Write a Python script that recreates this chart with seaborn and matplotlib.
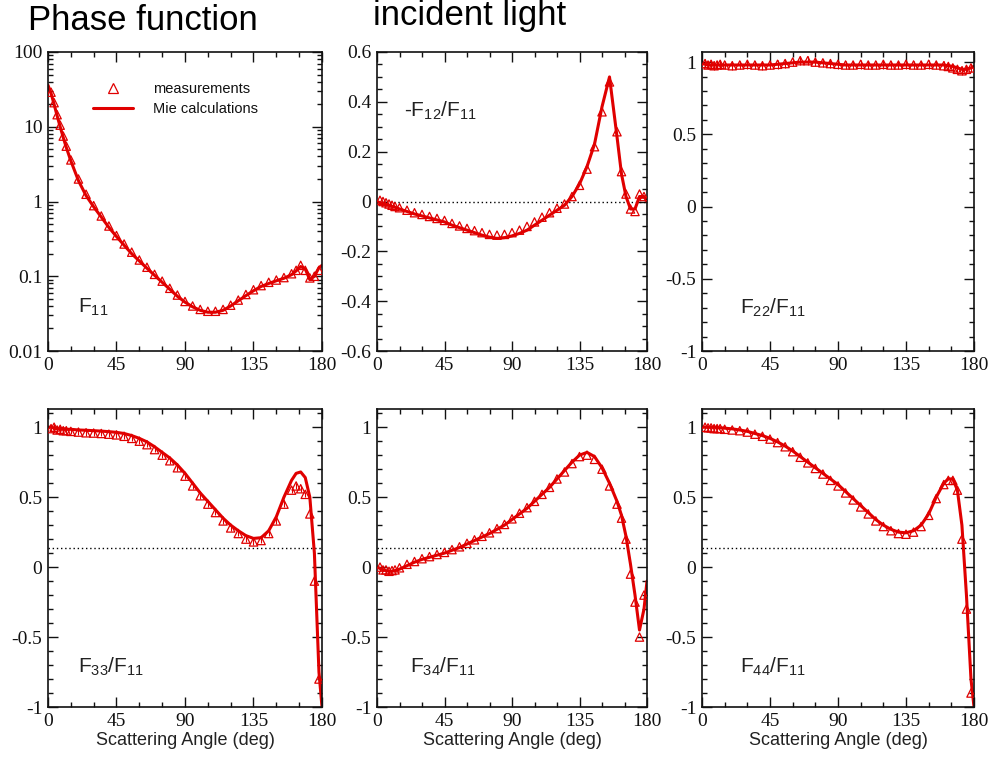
import matplotlib
matplotlib.use("Agg")
import matplotlib.pyplot as plt
from matplotlib.ticker import MultipleLocator, FixedLocator, LogLocator, NullFormatter
from matplotlib.lines import Line2D
import seaborn as sns

# ---------------- data ----------------
mie_ang = [0, 2, 4, 6, 8, 10, 12, 15, 20, 25, 30, 35, 40, 45, 50, 55, 60, 65, 70, 75,
           80, 85, 90, 95, 100, 105, 110, 115, 120, 125, 130, 135, 140, 145, 150, 155,
           160, 163, 166, 169, 172, 175, 178, 180]
meas_ang = [2, 4, 6, 8, 10, 12, 15, 20, 25, 30, 35, 40, 45, 50, 55, 60, 65, 70, 75,
            80, 85, 90, 95, 100, 105, 110, 115, 120, 125, 130, 135, 140, 145, 150, 155,
            160, 163, 166, 169, 172, 175, 178]

f11_mie = [36, 28, 20, 14, 10, 7.2, 5.3, 3.5, 1.9, 1.2, 0.85, 0.62, 0.45, 0.34, 0.26, 0.2,
           0.16, 0.128, 0.103, 0.083, 0.067, 0.054, 0.045, 0.039, 0.035, 0.033, 0.033,
           0.035, 0.04, 0.047, 0.055, 0.064, 0.073, 0.08, 0.087, 0.094, 0.105, 0.118,
           0.135, 0.125, 0.09, 0.1, 0.13, 0.14]
f11_meas = [29, 21, 14.5, 10.5, 7.5, 5.5, 3.6, 2.0, 1.25, 0.88, 0.64, 0.47, 0.35, 0.27,
            0.21, 0.165, 0.132, 0.106, 0.086, 0.069, 0.056, 0.046, 0.04, 0.036, 0.034,
            0.034, 0.036, 0.041, 0.048, 0.057, 0.066, 0.075, 0.083, 0.089, 0.096, 0.108,
            0.12, 0.14, 0.12, 0.095, 0.1, 0.12]

f12_mie = [0.0, -0.005, -0.008, -0.012, -0.015, -0.02, -0.023, -0.03, -0.04, -0.05, -0.058,
           -0.066, -0.074, -0.082, -0.095, -0.105, -0.115, -0.125, -0.135, -0.143, -0.148,
           -0.145, -0.138, -0.128, -0.115, -0.095, -0.075, -0.055, -0.035, -0.015, 0.02,
           0.07, 0.14, 0.23, 0.38, 0.5, 0.26, 0.11, 0.02, -0.03, -0.03, 0.02, 0.02, 0.0]
f12_meas = [0.005, 0.0, -0.005, -0.01, -0.015, -0.02, -0.025, -0.035, -0.045, -0.052, -0.06,
            -0.068, -0.076, -0.088, -0.098, -0.108, -0.117, -0.125, -0.132, -0.135, -0.132,
            -0.125, -0.115, -0.1, -0.082, -0.063, -0.045, -0.027, -0.01, 0.02, 0.065, 0.13,
            0.22, 0.36, 0.48, 0.28, 0.12, 0.03, -0.03, -0.04, 0.03, 0.02]

f22_mie = [0.99, 0.985, 0.98, 0.98, 0.98, 0.98, 0.98, 0.98, 0.98, 0.98, 0.98, 0.98, 0.98,
           0.98, 0.985, 0.99, 0.995, 1.0, 1.0, 1.0, 0.995, 0.99, 0.985, 0.98, 0.98, 0.98,
           0.98, 0.98, 0.98, 0.98, 0.98, 0.98, 0.98, 0.98, 0.98, 0.98, 0.98, 0.975, 0.97,
           0.96, 0.95, 0.95, 0.96, 0.97]
f22_meas = [0.99, 0.98, 0.985, 0.975, 0.98, 0.985, 0.98, 0.975, 0.98, 0.985, 0.98, 0.975,
            0.98, 0.985, 0.99, 1.0, 1.01, 1.01, 1.0, 0.995, 0.99, 0.985, 0.98, 0.98, 0.985,
            0.98, 0.98, 0.985, 0.98, 0.98, 0.985, 0.98, 0.98, 0.985, 0.98, 0.975, 0.97,
            0.96, 0.95, 0.94, 0.95, 0.96]

f33_mie = [1.0, 1.0, 0.995, 0.99, 0.99, 0.99, 0.985, 0.985, 0.98, 0.978, 0.975, 0.972, 0.968,
           0.963, 0.955, 0.94, 0.92, 0.895, 0.86, 0.82, 0.78, 0.73, 0.67, 0.6, 0.53, 0.47,
           0.41, 0.35, 0.3, 0.26, 0.225, 0.205, 0.21, 0.26, 0.36, 0.5, 0.62, 0.67, 0.68,
           0.64, 0.5, 0.1, -0.75, -1.0]
f33_meas = [0.99, 1.0, 0.98, 0.985, 0.975, 0.975, 0.97, 0.965, 0.96, 0.958, 0.955, 0.95,
            0.945, 0.935, 0.92, 0.9, 0.875, 0.84, 0.8, 0.76, 0.71, 0.65, 0.58, 0.51, 0.45,
            0.39, 0.33, 0.28, 0.24, 0.2, 0.18, 0.19, 0.24, 0.33, 0.45, 0.55, 0.58, 0.56,
            0.52, 0.38, -0.1, -0.8]

f34_mie = [0.0, -0.01, -0.02, -0.025, -0.03, -0.03, -0.025, -0.015, 0.01, 0.035, 0.055, 0.07,
           0.085, 0.1, 0.12, 0.14, 0.165, 0.19, 0.215, 0.24, 0.27, 0.3, 0.34, 0.38, 0.42,
           0.47, 0.52, 0.57, 0.63, 0.69, 0.75, 0.8, 0.82, 0.79, 0.71, 0.6, 0.47, 0.37, 0.22,
           0.02, -0.2, -0.45, -0.3, -0.1]
f34_meas = [0.0, -0.02, -0.02, -0.03, -0.025, -0.02, -0.005, 0.02, 0.04, 0.06, 0.075, 0.09,
            0.105, 0.125, 0.145, 0.17, 0.195, 0.22, 0.245, 0.275, 0.305, 0.345, 0.385, 0.425,
            0.47, 0.52, 0.57, 0.63, 0.68, 0.74, 0.79, 0.8, 0.77, 0.7, 0.58, 0.45, 0.35, 0.2,
            -0.05, -0.25, -0.5, -0.2]

f44_mie = [1.0, 1.0, 1.0, 1.0, 1.0, 0.998, 0.996, 0.993, 0.988, 0.98, 0.97, 0.955, 0.94,
           0.92, 0.895, 0.865, 0.83, 0.79, 0.75, 0.71, 0.67, 0.63, 0.59, 0.54, 0.49, 0.44,
           0.39, 0.34, 0.3, 0.27, 0.25, 0.245, 0.26, 0.3, 0.38, 0.5, 0.6, 0.63, 0.63, 0.55,
           0.3, -0.2, -0.8, -1.0]
f44_meas = [1.0, 0.995, 0.995, 0.99, 0.99, 0.99, 0.985, 0.98, 0.975, 0.965, 0.95, 0.935,
            0.915, 0.89, 0.86, 0.825, 0.785, 0.745, 0.705, 0.665, 0.62, 0.58, 0.53, 0.48,
            0.43, 0.38, 0.33, 0.29, 0.26, 0.24, 0.235, 0.25, 0.29, 0.37, 0.49, 0.59, 0.62,
            0.62, 0.55, 0.2, -0.3, -0.9]

f22_err = 0.03
f33_err = 0.02

x_ticks = [0, 45, 90, 135, 180]
x_labels = ["0", "45", "90", "135", "180"]

panel_labels = ["F$_{11}$", "-F$_{12}$/F$_{11}$", "F$_{22}$/F$_{11}$",
                "F$_{33}$/F$_{11}$", "F$_{34}$/F$_{11}$", "F$_{44}$/F$_{11}$"]
legend_labels = ["measurements", "Mie calculations"]
titles = ["Phase function", "incident light"]
x_title = "Scattering Angle (deg)"

# ---------------- style ----------------
sns.set_style("ticks")
plt.rcParams.update({
    "font.family": ["Liberation Sans", "DejaVu Sans"],
    "mathtext.fontset": "custom",
    "mathtext.rm": "Liberation Sans",
    "mathtext.it": "Liberation Sans:italic",
    "mathtext.bf": "Liberation Sans:bold",
    "mathtext.default": "rm",
    "axes.unicode_minus": False,
    "axes.linewidth": 1.2,
    "axes.edgecolor": "#111111",
    "text.color": "#111111",
})

RED = "#e00000"
fig = plt.figure(figsize=(9.94, 7.62), dpi=100)

W, H = 994.0, 762.0
cols = [(48, 322), (377, 647), (702, 974)]
rows = [(52, 351), (409, 707)]

panels = [
    dict(mie=f11_mie, meas=f11_meas, err=None, log=True, ylim=(0.01, 100),
         yt=[0.01, 0.1, 1, 10, 100], ytl=["0.01", "0.1", "1", "10", "100"], ymin=None,
         lab=(0.11, 0.127), dot=None),
    dict(mie=f12_mie, meas=f12_meas, err=None, log=False, ylim=(-0.6, 0.6),
         yt=[-0.6, -0.4, -0.2, 0, 0.2, 0.4, 0.6],
         ytl=["-0.6", "-0.4", "-0.2", "0", "0.2", "0.4", "0.6"], ymin=0.05,
         lab=(0.1, 0.783), dot=0.0),
    dict(mie=f22_mie, meas=f22_meas, err=f22_err, log=False, ylim=(-1, 1.07),
         yt=[-1, -0.5, 0, 0.5, 1], ytl=["-1", "-0.5", "0", "0.5", "1"], ymin=0.1,
         lab=(0.14, 0.124), dot=None),
    dict(mie=f33_mie, meas=f33_meas, err=f33_err, log=False, ylim=(-1, 1.13),
         yt=[-1, -0.5, 0, 0.5, 1], ytl=["-1", "-0.5", "0", "0.5", "1"], ymin=0.1,
         lab=(0.11, 0.114), dot=0.14),
    dict(mie=f34_mie, meas=f34_meas, err=None, log=False, ylim=(-1, 1.13),
         yt=[-1, -0.5, 0, 0.5, 1], ytl=["-1", "-0.5", "0", "0.5", "1"], ymin=0.1,
         lab=(0.122, 0.114), dot=0.14),
    dict(mie=f44_mie, meas=f44_meas, err=None, log=False, ylim=(-1, 1.13),
         yt=[-1, -0.5, 0, 0.5, 1], ytl=["-1", "-0.5", "0", "0.5", "1"], ymin=0.1,
         lab=(0.14, 0.114), dot=0.14),
]

axes = []
for i, p in enumerate(panels):
    r, c = divmod(i, 3)
    x0, x1 = cols[c]
    y0, y1 = rows[r]
    ax = fig.add_axes([x0 / W, 1 - y1 / H, (x1 - x0) / W, (y1 - y0) / H])
    axes.append(ax)

    sns.lineplot(x=mie_ang, y=p["mie"], ax=ax, color=RED, linewidth=2.2,
                 estimator=None, sort=False, legend=False, zorder=2)
    if p["err"] is not None:
        ax.errorbar(meas_ang, p["meas"], yerr=p["err"], fmt="none", ecolor=RED,
                    elinewidth=0.8, capsize=0, zorder=3)
    sns.scatterplot(x=meas_ang, y=p["meas"], ax=ax, marker="^", s=36, color=RED,
                    facecolor="none", edgecolor=RED, linewidth=0.9, legend=False,
                    zorder=4)
    if p["dot"] is not None:
        ax.axhline(p["dot"], color="black", linewidth=1.0, linestyle=(0, (1, 2)), zorder=1)

    ax.set_xlim(0, 180)
    if p["log"]:
        ax.set_yscale("log")
    ax.set_ylim(*p["ylim"])
    ax.xaxis.set_major_locator(FixedLocator(x_ticks))
    ax.set_xticklabels(x_labels)
    ax.xaxis.set_minor_locator(MultipleLocator(15))
    ax.yaxis.set_major_locator(FixedLocator(p["yt"]))
    ax.set_yticklabels(p["ytl"])
    if p["log"]:
        ax.yaxis.set_minor_locator(LogLocator(base=10, subs=range(2, 10)))
        ax.yaxis.set_minor_formatter(NullFormatter())
    else:
        ax.yaxis.set_minor_locator(MultipleLocator(p["ymin"]))
    ax.tick_params(which="both", direction="in", top=True, right=True,
                   color="#111111", width=1.0)
    ax.tick_params(which="major", length=7, labelsize=14, pad=4,
                   labelfontfamily="Liberation Serif", labelcolor="#111111")
    ax.tick_params(which="minor", length=3.5)
    ax.set_xlabel("")
    ax.set_ylabel("")
    if r == 1:
        ax.set_xlabel(x_title, fontsize=13, labelpad=2, color="#222222")
    ax.text(p["lab"][0], p["lab"][1], panel_labels[i], transform=ax.transAxes,
            fontsize=15, ha="left", va="baseline", color="#222222")
    for s in ax.spines.values():
        s.set_visible(True)

handles = [Line2D([], [], linestyle="none", marker="^", markersize=7,
                  markerfacecolor="none", markeredgecolor=RED, markeredgewidth=0.9),
           Line2D([], [], color=RED, linewidth=2.2)]
axes[0].legend(handles, legend_labels, loc="upper left", bbox_to_anchor=(0.164, 0.9),
               frameon=False, fontsize=10.5, handlelength=2.75, handletextpad=1.35,
               labelspacing=0.45, borderpad=0, borderaxespad=0)

fig.text(28 / W, 1 - 30 / H, titles[0], fontsize=25, ha="left", va="baseline",
         color="black")
fig.text(373 / W, 1 - 25 / H, titles[1], fontsize=25, ha="left", va="baseline",
         color="black")

fig.savefig("out.png", dpi=100)
